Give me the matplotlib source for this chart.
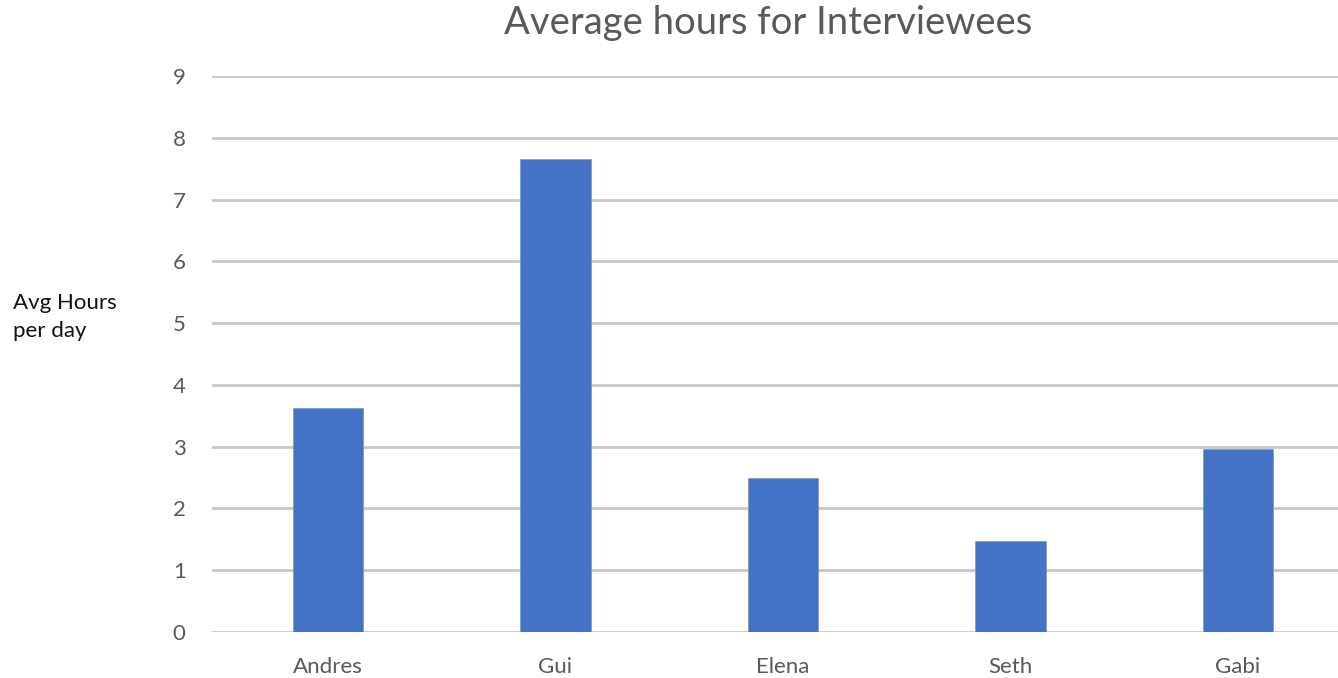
import matplotlib
matplotlib.use("Agg")
import matplotlib.pyplot as plt

# data
names = ["Andres", "Gui", "Elena", "Seth", "Gabi"]
hours = [3.62, 7.65, 2.49, 1.47, 2.97]
yticks = [0, 1, 2, 3, 4, 5, 6, 7, 8, 9]

plt.rcParams['font.family'] = ['Lato', 'DejaVu Sans']

fig = plt.figure(figsize=(13.38, 6.78), dpi=100)
ax = fig.add_axes([212/1338, 46/678, (1338-212)/1338, 556/678])

x = range(len(names))
ax.bar(x, hours, width=0.31, color="#4472C4", edgecolor="#8a9bb8", linewidth=0.6, zorder=3)

ax.set_xlim(-0.509, 4.44)
ax.set_ylim(0, 9)
ax.set_yticks(yticks)
ax.set_xticks(list(x))
ax.set_xticklabels(names)
ax.grid(axis="y", color="#c8c8c8", linewidth=2, zorder=0)
for s in ax.spines.values():
    s.set_visible(False)
ax.tick_params(length=0, colors="#595959", labelsize=16)
ax.tick_params(axis="y", pad=19)
ax.tick_params(axis="x", pad=18)

# title sits slightly right of the figure centre
fig.text(768/1338, 1 - 23/678, "Average hours for Interviewees", ha="center", va="center",
         fontsize=27.5, color="#595959")
fig.text(13/1338, 1 - 317/678, "Avg Hours\nper day", ha="left", va="center",
         fontsize=16, color="#111111", linespacing=1.45)

fig.savefig("out.png", dpi=100)
